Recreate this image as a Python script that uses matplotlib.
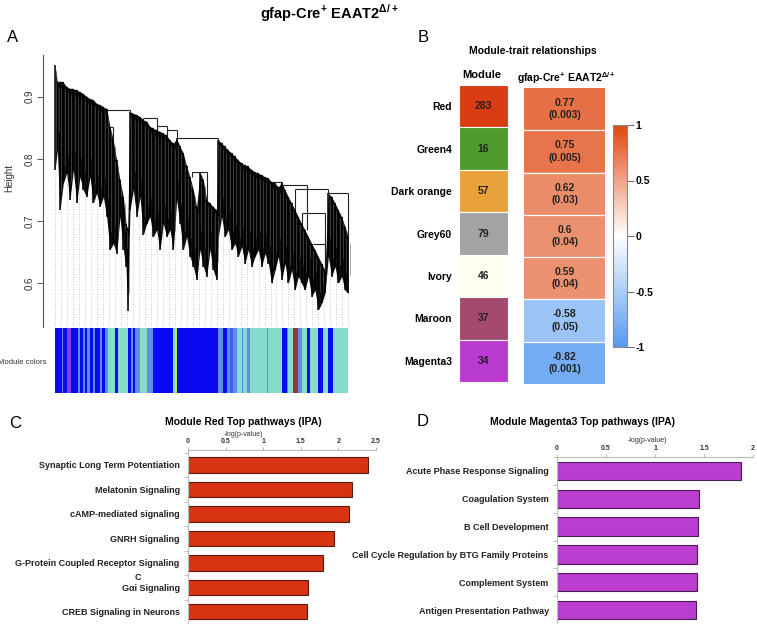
import numpy as np
import matplotlib
matplotlib.use("Agg")
import matplotlib.pyplot as plt
from matplotlib.colors import LinearSegmentedColormap

plt.rcParams['font.family'] = ['Liberation Sans', 'DejaVu Sans']
plt.rcParams['mathtext.fontset'] = 'custom'
plt.rcParams['mathtext.rm'] = 'Liberation Sans'
plt.rcParams['mathtext.bf'] = 'Liberation Sans:bold'

# ---- panel A: dendrogram (leaf order position, top height, tip height) ----
leaf_pos = [0, 7, 15, 25, 35, 45, 55, 65, 75, 85, 95, 105, 115, 125, 135, 145, 155,
            165, 175, 185, 195, 205, 213, 218,
            225, 235, 245, 255, 265, 275, 285, 295, 305, 315, 325, 335, 345, 355,
            365, 375, 385, 395, 405, 415, 425, 435, 445, 455, 465, 475, 485,
            490, 500, 510, 520, 530, 540, 550, 560, 570, 580, 590, 600, 610, 620,
            630, 640, 650, 660, 670, 680, 690, 700, 710, 720, 730, 740, 750, 760,
            770, 780, 790, 800, 810, 820, 830, 840, 850, 860, 870, 880]
leaf_top = [0.951, 0.924, 0.924, 0.923, 0.916, 0.913, 0.912, 0.910, 0.908, 0.905, 0.900,
            0.897, 0.895, 0.889, 0.887, 0.884, 0.880,
            0.852, 0.830, 0.798, 0.766, 0.739, 0.696, 0.688,
            0.876, 0.873, 0.871, 0.868, 0.863, 0.860, 0.852, 0.849, 0.846, 0.844,
            0.841, 0.838, 0.830, 0.825,
            0.833, 0.820, 0.809, 0.788, 0.771, 0.750, 0.723, 0.779, 0.766, 0.734,
            0.729, 0.723, 0.718,
            0.831, 0.825, 0.820, 0.814, 0.809, 0.804, 0.798, 0.793, 0.790, 0.788,
            0.782, 0.779, 0.777, 0.774, 0.771, 0.769, 0.763, 0.761, 0.755,
            0.763, 0.750, 0.739, 0.729, 0.718, 0.707, 0.696, 0.686, 0.675, 0.664,
            0.654, 0.643, 0.632, 0.621,
            0.745, 0.739, 0.729, 0.718, 0.707, 0.691, 0.675]
leaf_tip = [0.782, 0.814, 0.718, 0.761, 0.777, 0.734, 0.782, 0.729, 0.771, 0.750, 0.739,
            0.771, 0.729, 0.745, 0.723, 0.739, 0.707,
            0.654, 0.664, 0.648, 0.707, 0.654, 0.627, 0.555,
            0.718, 0.750, 0.707, 0.739, 0.678, 0.696, 0.707, 0.675, 0.686, 0.654,
            0.696, 0.675, 0.686, 0.654,
            0.734, 0.696, 0.654, 0.675, 0.643, 0.627, 0.605, 0.654, 0.627, 0.611,
            0.654, 0.621, 0.605,
            0.675, 0.707, 0.675, 0.686, 0.654, 0.664, 0.643, 0.659, 0.632, 0.654,
            0.627, 0.643, 0.654, 0.627, 0.648, 0.632, 0.600, 0.621, 0.643,
            0.605, 0.632, 0.600, 0.621, 0.589, 0.611, 0.600, 0.589, 0.611, 0.579,
            0.589, 0.557, 0.568, 0.584,
            0.643, 0.611, 0.627, 0.600, 0.611, 0.589, 0.584]
# merge bars joining sub-clusters: (left position, right position, height)
merges = [(0, 15, 0.924), (150, 175, 0.852), (155, 225, 0.878), (265, 305, 0.865),
          (305, 335, 0.853), (335, 365, 0.846), (365, 490, 0.833), (410, 455, 0.779),
          (650, 680, 0.763), (680, 755, 0.758), (720, 820, 0.752), (820, 880, 0.745),
          (740, 810, 0.713), (775, 810, 0.664)]

# module colour strip segments: (start, end, colour name)
seg_start = [0, 20, 25, 35, 40, 47, 70, 75, 85, 90, 97, 105, 115, 120, 135, 140, 150,
             160, 180, 190, 220, 227, 233, 240, 255, 275, 295, 355, 360, 367, 490,
             505, 515, 525, 535, 545, 560, 565, 575, 585, 635, 640, 680, 695, 700,
             715, 730, 740, 755, 765, 790, 805, 820, 835]
seg_end = seg_start[1:] + [880]
seg_col = ['blue', 'light', 'blue', 'steel', 'purple', 'blue', 'light', 'blue', 'light',
           'blue', 'light', 'blue', 'light', 'blue', 'light', 'blue', 'light',
           'turquoise', 'blue', 'turquoise', 'blue', 'light', 'blue', 'light',
           'turquoise', 'light', 'blue', 'turquoise', 'greenyellow', 'blue', 'light',
           'blue', 'light', 'steel', 'light', 'turquoise', 'light', 'turquoise', 'light',
           'turquoise', 'light', 'turquoise', 'blue', 'light', 'turquoise', 'brown',
           'light', 'turquoise', 'blue', 'turquoise', 'blue', 'turquoise', 'blue',
           'turquoise']
palette = {'blue': '#0a0af2', 'light': '#5d8de6', 'steel': '#3f63e4', 'purple': '#8a3ae0',
           'turquoise': '#86dccb', 'greenyellow': '#b4f03c', 'brown': '#98333a'}

# ---- panel B ----
modules = ['Red', 'Green4', 'Dark orange', 'Grey60', 'Ivory', 'Maroon', 'Magenta3']
module_size = [283, 16, 57, 79, 46, 37, 34]
module_col = ['#d93b12', '#4e9a2c', '#e9a23a', '#a3a3a3', '#fffff2', '#a5496e', '#ba3bd0']
corr = [0.77, 0.75, 0.62, 0.6, 0.59, -0.58, -0.82]
pval = ['0.003', '0.005', '0.03', '0.04', '0.04', '0.05', '0.001']

# ---- panel C / D ----
red_paths = ['Synaptic Long Term Potentiation', 'Melatonin Signaling', 'cAMP-mediated signaling',
             'GNRH Signaling', 'G-Protein Coupled Receptor Signaling', 'G\u03b1i Signaling',
             'CREB Signaling in Neurons']
red_vals = [2.40, 2.185, 2.14, 1.94, 1.80, 1.59, 1.585]
mag_paths = ['Acute Phase Response Signaling', 'Coagulation System', 'B Cell Development',
             'Cell Cycle Regulation by BTG Family Proteins', 'Complement System',
             'Antigen Presentation Pathway']
mag_vals = [1.877, 1.45, 1.437, 1.427, 1.427, 1.416]

W, H = 757, 624
fig = plt.figure(figsize=(W / 100, H / 100), dpi=100)


def box(x0, y0, x1, y1):
    return [x0 / W, 1 - y1 / H, (x1 - x0) / W, (y1 - y0) / H]


def put(x, y, s, **kw):
    kw.setdefault('ha', 'center')
    kw.setdefault('va', 'center')
    fig.text(x / W, 1 - y / H, s, **kw)


put(329, 13, r'gfap-Cre$^{\mathbf{+}}$ EAAT2$^{\mathbf{\Delta/+}}$', fontsize=10.5, fontweight='bold')
for lab, x, y in [('A', 13, 38), ('B', 423, 37), ('C', 15, 423), ('D', 423, 422)]:
    put(x, y, lab, fontsize=12)

# panel A
axd = fig.add_axes(box(43, 55, 353, 327))
axd.set_xlim(-36, 894)
axd.set_ylim(0.53, 0.967)
for gx in np.linspace(0, 880, 50):
    axd.vlines(gx, 0.53, np.interp(gx, leaf_pos, leaf_tip), color='#b8b8b8', lw=0.6,
               linestyles=(0, (1, 2)), zorder=1)
axd.fill_between(leaf_pos, leaf_tip, leaf_top, color='#101010', lw=0, zorder=2)
axd.vlines(leaf_pos, leaf_tip, leaf_top, color='black', lw=1.1, zorder=3)
axd.vlines(np.array(leaf_pos) + 4, np.array(leaf_tip) + 0.03, np.array(leaf_top) - 0.01,
           color='#5a5a5a', lw=0.4, zorder=3)
for i in range(len(leaf_pos) - 1):
    if leaf_top[i + 1] <= leaf_top[i]:
        axd.hlines(leaf_top[i + 1], leaf_pos[i], leaf_pos[i + 1], color='black', lw=1.0, zorder=3)
for x0, x1, h in merges:
    axd.hlines(h, x0, x1, color='#222222', lw=0.8, zorder=3)
    for xe in (x0, x1):
        top = leaf_top[int(np.argmin(np.abs(np.array(leaf_pos) - xe)))]
        if top < h:
            axd.vlines(xe, top, h, color='#222222', lw=0.8, zorder=3)
for s in ['top', 'right', 'bottom']:
    axd.spines[s].set_visible(False)
axd.spines['left'].set_color('#555555')
axd.spines['left'].set_linewidth(0.8)
axd.set_xticks([])
axd.set_yticks([0.6, 0.7, 0.8, 0.9])
axd.set_yticklabels(['0.6', '0.7', '0.8', '0.9'], rotation=90, va='center', fontsize=7, color='#333333')
axd.tick_params(axis='y', length=4, width=0.7, color='#555555', pad=2)
put(9, 178, 'Height', rotation=90, fontsize=7, color='#333333')

axc = fig.add_axes(box(43, 328, 353, 393))
axc.set_xlim(-36, 894)
axc.set_ylim(0, 1)
axc.bar(seg_start, 1, width=np.array(seg_end) - np.array(seg_start), align='edge',
        color=[palette[c] for c in seg_col], linewidth=0)
axc.axis('off')
put(47, 362, 'Module colors', ha='right', fontsize=5.6, color='#333333')

# panel B
put(533, 51, 'Module-trait relationships', fontsize=7.5, fontweight='bold')
put(482, 75, 'Module', fontsize=8, fontweight='bold')
put(566, 78, r'gfap-Cre$^{\mathbf{+}}$ EAAT2$^{\mathbf{\Delta/+}}$', fontsize=7.5, fontweight='bold')

axm = fig.add_axes(box(459, 85, 508, 382))
axm.barh(range(len(modules)), 1, height=1, color=module_col, edgecolor='white', linewidth=0.8)
axm.set_xlim(0, 1)
axm.set_ylim(len(modules) - 0.5, -0.5)
for i, n in enumerate(module_size):
    axm.text(0.5, i, str(n), ha='center', va='center', fontsize=7.5, fontweight='bold', color='#222222')
axm.set_xticks([])
axm.set_yticks(range(len(modules)))
axm.set_yticklabels(modules, fontsize=7.5, fontweight='bold')
axm.tick_params(axis='y', length=0, pad=5)
for s in axm.spines.values():
    s.set_visible(False)

cmap = LinearSegmentedColormap.from_list('trait', ['#559af0', '#ffffff', '#e04810'])
axh = fig.add_axes(box(524, 88, 605, 384))
im = axh.imshow(np.array(corr).reshape(-1, 1), cmap=cmap, vmin=-1, vmax=1, aspect='auto')
for i in range(len(corr) - 1):
    axh.axhline(i + 0.5, color='white', lw=0.9)
for i, (c, p) in enumerate(zip(corr, pval)):
    axh.text(0, i, '%g\n(%s)' % (c, p), ha='center', va='center', fontsize=7.5,
             fontweight='bold', color='#222222', linespacing=1.3)
axh.set_xticks([])
axh.set_yticks([])
for s in axh.spines.values():
    s.set_visible(False)

cax = fig.add_axes(box(613, 125, 627, 347))
cb = fig.colorbar(im, cax=cax, ticks=[-1, -0.5, 0, 0.5, 1])
cb.ax.set_yticklabels(['-1', '-0.5', '0', '0.5', '1'], fontsize=7.5, fontweight='bold')
cb.ax.tick_params(length=5, width=0.7, color='#666666', pad=1)
cb.outline.set_edgecolor('#888888')
cb.outline.set_linewidth(0.8)


def pathway_panel(rect, names, vals, color, edge, xmax, ticks, ylim, bh):
    ax = fig.add_axes(rect)
    ax.barh(range(len(names)), vals, height=bh, color=color, edgecolor=edge, linewidth=0.8)
    ax.set_xlim(0, xmax)
    ax.set_ylim(*ylim)
    ax.xaxis.tick_top()
    ax.set_xticks(ticks)
    ax.set_xticklabels(['%g' % t for t in ticks], fontsize=5, fontweight='bold', color='#333333')
    ax.tick_params(axis='x', length=2, width=0.5, color='#999999', pad=1.5)
    ax.set_yticks(range(len(names)))
    ax.set_yticklabels(names, fontsize=6.5, fontweight='bold', color='#222222')
    ax.set_yticks(np.arange(len(names) + 1) - 0.5, minor=True)
    ax.tick_params(axis='y', which='major', length=0, pad=6)
    ax.tick_params(axis='y', which='minor', length=3, width=0.5, color='#aaaaaa')
    for s in ['right', 'bottom']:
        ax.spines[s].set_visible(False)
    for s in ['top', 'left']:
        ax.spines[s].set_color('#bbbbbb')
        ax.spines[s].set_linewidth(0.8)
    return ax


pathway_panel(box(188, 450, 376, 624), red_paths, red_vals, '#d63412', '#5a1a0e', 2.5,
              [0, 0.5, 1, 1.5, 2, 2.5], (6.49, -0.61), 0.63)
put(243, 422, 'Module Red Top pathways (IPA)', fontsize=7.5, fontweight='bold')
put(243, 434, '-log(p-value)', fontsize=5, color='#333333')
put(138, 577, 'C', fontsize=6.5, fontweight='bold', color='#222222')

pathway_panel(box(557, 457, 753, 624), mag_paths, mag_vals, '#bb3dd0', '#4a1a55', 2,
              [0, 0.5, 1, 1.5, 2], (5.5, -0.5), 0.66)
put(583, 422, 'Module Magenta3 Top pathways (IPA)', fontsize=7.5, fontweight='bold')
put(647, 440, '-log(p-value)', fontsize=5, color='#333333')

fig.savefig('out.png', dpi=100)
